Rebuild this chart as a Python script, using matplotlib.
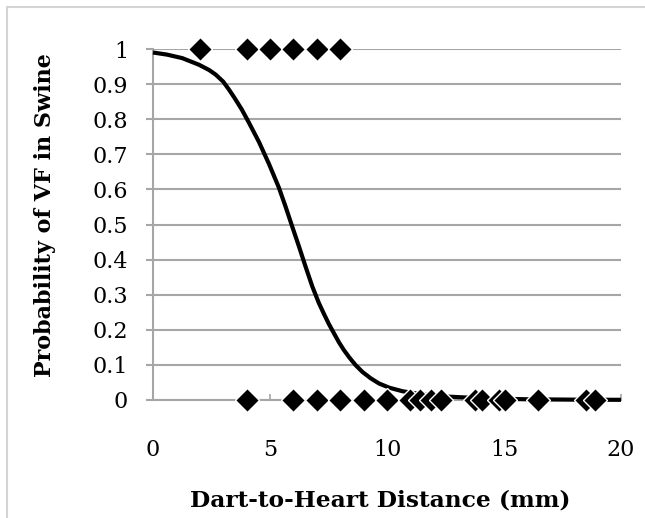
"""
Probability of VF in swine vs dart-to-heart distance.
Logistic fit curve plus the observed outcomes (1 = VF, 0 = no VF).
"""

import matplotlib
matplotlib.use('Agg')
import matplotlib.pyplot as plt
from matplotlib.patches import Rectangle


# ── data ──────────────────────────────────────────────────────────────────────

# observed shots that produced VF (plotted at 1)
vf_dist = [2, 4, 5, 6, 7, 8]
vf_outcome = [1, 1, 1, 1, 1, 1]

# observed shots with no VF (plotted at 0)
no_vf_dist = [4, 6, 7, 8, 9, 10, 11, 11.4, 11.9, 12.3,
              13.75, 14.05, 14.8, 15.05, 16.45, 18.5, 18.9]
no_vf_outcome = [0] * len(no_vf_dist)

# fitted curve
fit_dist = [0, 0.6, 1.25, 1.97, 2.4, 2.68, 3.0, 3.25, 3.5, 3.8, 4.1, 4.53,
            4.96, 5.38, 5.67, 5.95, 6.24, 6.52, 6.81, 7.09, 7.3, 7.52, 7.75,
            7.95, 8.15, 8.38, 8.65, 8.95, 9.3, 9.66, 10.1, 10.66,
            11.5, 12.5, 14, 16, 18, 20]
fit_prob = [0.99, 0.984, 0.974, 0.955, 0.94, 0.927, 0.907, 0.884, 0.859, 0.827,
            0.79, 0.735, 0.672, 0.605, 0.55, 0.494, 0.437, 0.38, 0.323, 0.276,
            0.246, 0.216, 0.188, 0.164, 0.143, 0.122, 0.1, 0.08, 0.062, 0.047,
            0.035, 0.025, 0.016, 0.010, 0.005, 0.002, 0.001, 0.0005]

x_ticks = [0, 5, 10, 15, 20]
y_ticks = [0, 0.1, 0.2, 0.3, 0.4, 0.5, 0.6, 0.7, 0.8, 0.9, 1]
y_tick_labels = ['0', '0.1', '0.2', '0.3', '0.4', '0.5', '0.6', '0.7', '0.8', '0.9', '1']


# ── figure ────────────────────────────────────────────────────────────────────

plt.rcParams['font.family'] = ['DejaVu Serif']
W, H = 645, 518
fig = plt.figure(figsize=(W / 100, H / 100), dpi=100)
ax = fig.add_axes([153 / W, 1 - 400 / H, 468 / W, 351 / H])

grid_col = '#a6a6a6'
ax.set_xlim(0, 20)
ax.set_ylim(0, 1)
ax.set_yticks(y_ticks)
ax.set_yticklabels(y_tick_labels)
ax.set_xticks(x_ticks)
ax.yaxis.grid(True, color=grid_col, lw=1.5)
ax.set_axisbelow(True)
for side in ['top', 'right']:
    ax.spines[side].set_visible(False)
for side in ['left', 'bottom']:
    ax.spines[side].set_color(grid_col)
    ax.spines[side].set_linewidth(1.5)
ax.tick_params(axis='y', direction='out', length=5, width=1.5, color=grid_col,
               pad=13, labelsize=16)
ax.tick_params(axis='x', direction='in', length=4, width=1.2, color=grid_col,
               pad=28, labelsize=16)

ax.plot(fit_dist, fit_prob, color='black', lw=3, solid_capstyle='butt',
        solid_joinstyle='round', clip_on=False, zorder=3)
mk = dict(ls='none', marker='D', ms=12, mfc='black', mec='white', mew=1.0,
          clip_on=False, zorder=4)
ax.plot(vf_dist, vf_outcome, **mk)
ax.plot(no_vf_dist, no_vf_outcome, **mk)

fig.text(45 / W, 1 - 215 / H, 'Probability of VF in Swine', rotation=90,
         ha='center', va='center', fontsize=16, fontweight='bold')
fig.text(380 / W, 1 - 507 / H, 'Dart-to-Heart Distance (mm)',
         ha='center', va='baseline', fontsize=16.8, fontweight='bold')

# light frame around the chart
fig.patches.append(Rectangle((7 / W, -0.1), 2, 1.1 - 7 / H, transform=fig.transFigure,
                             fill=False, ec='#d4d4d4', lw=1.5))

fig.savefig('out.png', dpi=100)
